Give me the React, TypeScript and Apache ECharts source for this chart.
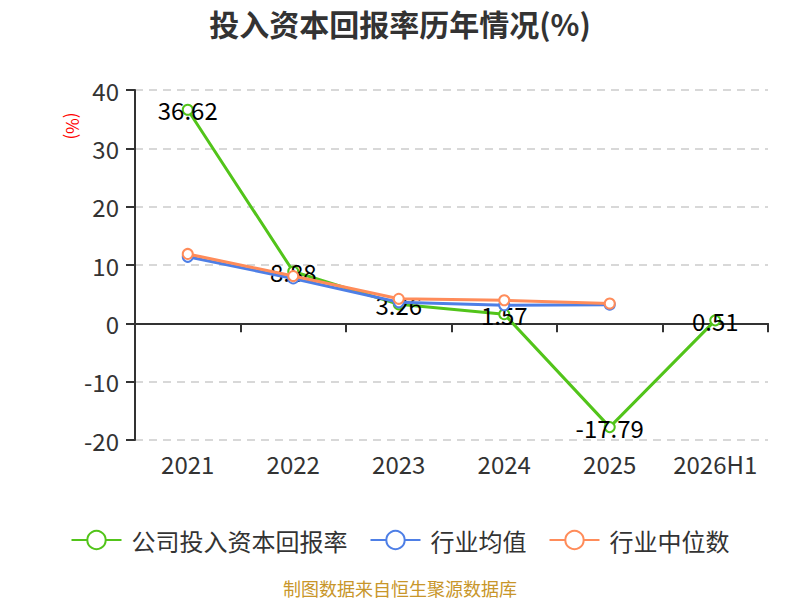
import React, { useEffect, useRef } from "react";
import * as echarts from "echarts";

const categories = ["2021", "2022", "2023", "2024", "2025", "2026H1"];
const companyValues = [36.62, 8.88, 3.26, 1.57, -17.79, 0.51];
const industryAvg = [11.4, 7.7, 3.6, 3.1, 3.2, null];
const industryMedian = [11.9, 8.1, 4.2, 3.95, 3.4, null];
const legendNames = ["公司投入资本回报率", "行业均值", "行业中位数"];

const FONT = "Noto Sans CJK SC, Open Sans, sans-serif";

export default function App() {
  const ref = useRef<HTMLDivElement>(null);
  useEffect(() => {
    document.body.style.margin = "0";
    if (!ref.current) return;
    const chart = echarts.init(ref.current, undefined, { renderer: "svg" });
    chart.setOption({
      animation: false,
      textStyle: { fontFamily: FONT },
      title: {
        text: "投入资本回报率历年情况(%)",
        left: "center",
        top: 3,
        textStyle: { fontSize: 30, fontWeight: "bold", color: "#333", fontFamily: FONT },
      },
      graphic: [
        {
          type: "text",
          x: 73,
          y: 126,
          rotation: -Math.PI / 2,
          style: {
            text: "(%)",
            fill: "#ff0000",
            fontSize: 17,
            fontFamily: FONT,
            textAlign: "center",
            textVerticalAlign: "middle",
          },
        },
        {
          type: "text",
          x: 400,
          y: 588,
          style: {
            text: "制图数据来自恒生聚源数据库",
            fill: "#c8962a",
            fontSize: 18,
            fontFamily: FONT,
            textAlign: "center",
            textVerticalAlign: "middle",
          },
        },
      ],
      legend: {
        data: legendNames,
        top: 523,
        left: "center",
        itemWidth: 50,
        itemHeight: 23,
        itemGap: 22,
        textStyle: { fontSize: 24, color: "#333", fontFamily: FONT, padding: [0, 0, 0, 5] },
      },
      grid: { left: 135, right: 32, top: 90, bottom: 160, containLabel: false },
      xAxis: {
        type: "category",
        data: categories,
        axisLine: { onZero: true, lineStyle: { color: "#333", width: 2 } },
        axisTick: { show: true, interval: 0, length: 9, lineStyle: { color: "#333", width: 2 } },
        axisLabel: { interval: 0, hideOverlap: false, fontSize: 24, color: "#333", margin: 11 },
      },
      yAxis: {
        type: "value",
        min: -20,
        max: 40,
        interval: 10,
        axisLine: { show: true, lineStyle: { color: "#333", width: 2 } },
        axisTick: { show: true, length: 9, lineStyle: { color: "#333", width: 2 } },
        axisLabel: { fontSize: 24, color: "#333", margin: 16 },
        splitLine: { lineStyle: { type: [8, 6], color: "#ccc", width: 1.5 } },
      },
      series: [
        {
          name: legendNames[0],
          type: "line",
          data: companyValues,
          symbol: "emptyCircle",
          symbolSize: 10,
          z: 3,
          lineStyle: { color: "#52c41a", width: 3 },
          itemStyle: { color: "#52c41a", borderWidth: 2 },
          label: {
            show: true,
            position: "inside",
            fontSize: 24,
            color: "#000",
            fontFamily: FONT,
          },
        },
        {
          name: legendNames[1],
          type: "line",
          data: industryAvg,
          symbol: "emptyCircle",
          symbolSize: 10,
          z: 4,
          lineStyle: { color: "#4e7fe6", width: 3 },
          itemStyle: { color: "#4e7fe6", borderWidth: 2 },
        },
        {
          name: legendNames[2],
          type: "line",
          data: industryMedian,
          symbol: "emptyCircle",
          symbolSize: 10,
          z: 5,
          lineStyle: { color: "#ff8c5a", width: 3 },
          itemStyle: { color: "#ff8c5a", borderWidth: 2 },
        },
      ],
    });
    return () => chart.dispose();
  }, []);
  return <div ref={ref} style={{ width: 800, height: 600 }} />;
}
